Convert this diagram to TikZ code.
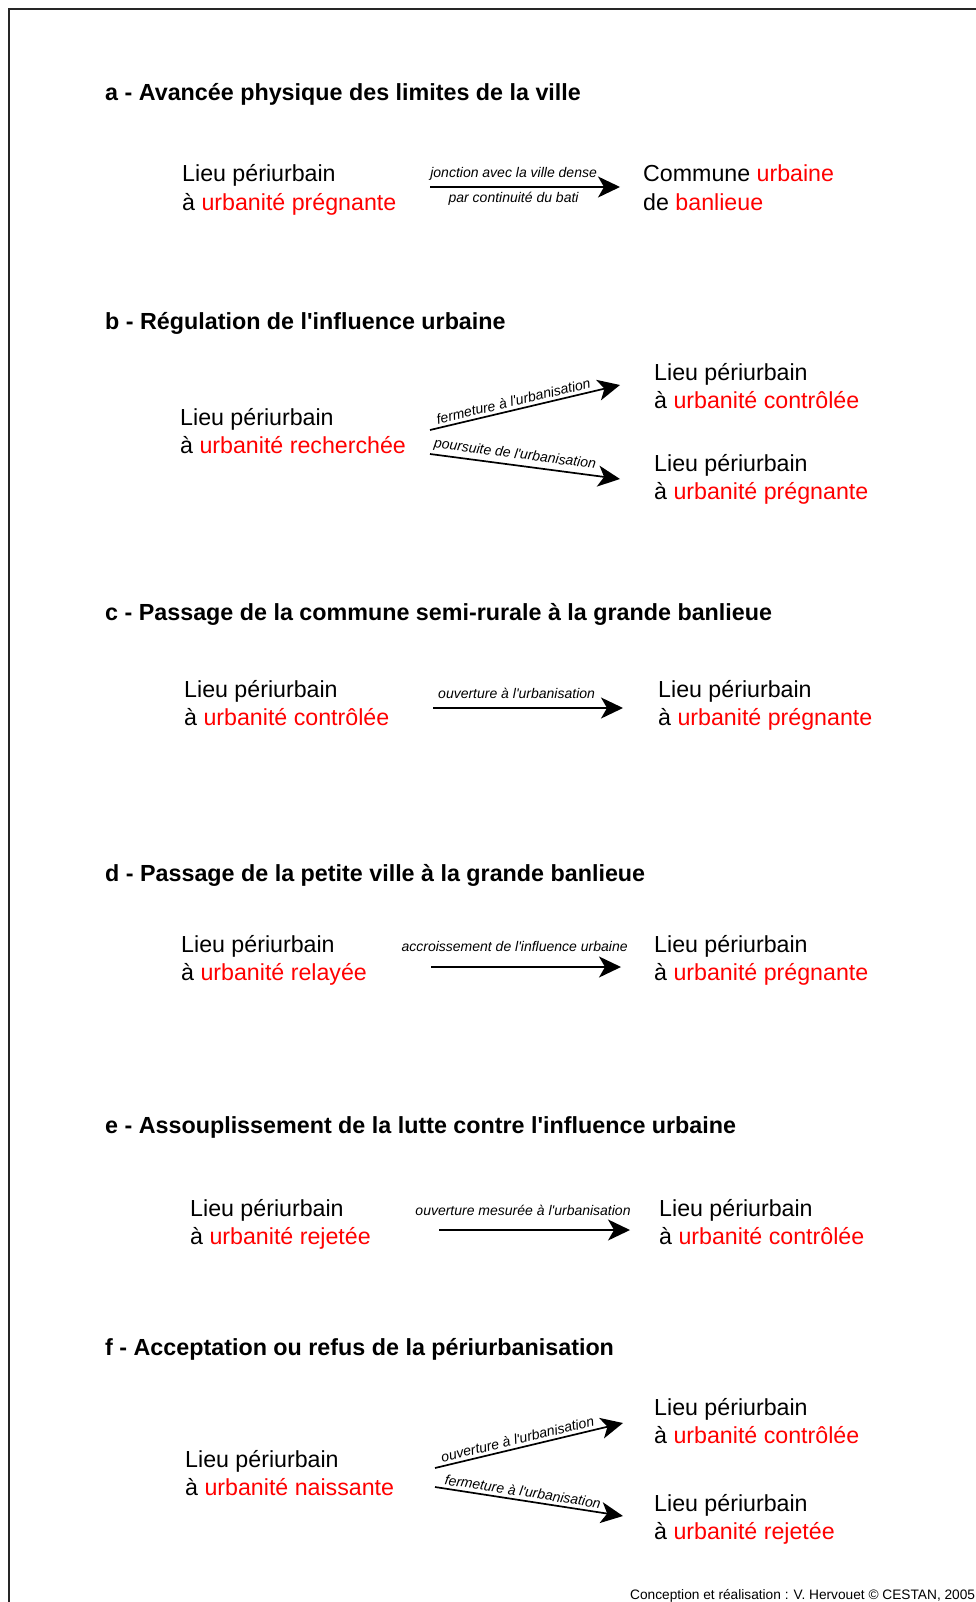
\documentclass[tikz,border=0pt]{standalone}
\usepackage{fontspec}
\setmainfont{Liberation Sans}[Ligatures=TeXOff]
\usetikzlibrary{arrows.meta, positioning}

\begin{document}
\begin{tikzpicture}[x=1pt, y=-1pt,
    titre/.style={anchor=base west, inner sep=0pt, font=\fontsize{23.3}{28}\selectfont\bfseries},
    lieu/.style={anchor=base west, yshift=-28.5pt, inner sep=0pt, align=left, font=\fontsize{23.2}{28.5}\selectfont},
    lbl/.style={inner sep=0pt, font=\fontsize{14}{16}\selectfont\itshape},
    arr/.style={-{Stealth[length=22pt, width=21pt, inset=6pt]}, line width=1.7pt}
]
\useasboundingbox (0,0) rectangle (976,1602);
\clip (0,0) rectangle (976,1602);
\draw[black!85, line width=1.3pt] (9,9) rectangle (1000,1650);

% a
\node[titre] (ta) at (105,101) {a - Avancée physique des limites de la ville};
\node[lieu] (la) at (182,182) {Lieu périurbain\\à \textcolor{red}{urbanité prégnante}};
\node[lieu] (ra) at (643,182) {Commune \textcolor{red}{urbaine}\\de \textcolor{red}{banlieue}};
\coordinate (a1) at (430,187);
\coordinate (a2) at (620,187);
\draw[arr] (a1) -- (a2)
    node[lbl, pos=.44, yshift=13pt] {jonction avec la ville dense}
    node[lbl, pos=.44, yshift=-12pt] {par continuité du bati};

% b
\node[titre] (tb) at (105,329) {b - Régulation de l'influence urbaine};
\node[lieu] (lb) at (180,425) {Lieu périurbain\\à \textcolor{red}{urbanité recherchée}};
\node[lieu] (rb1) at (654,380) {Lieu périurbain\\à \textcolor{red}{urbanité contrôlée}};
\node[lieu] (rb2) at (654,471) {Lieu périurbain\\à \textcolor{red}{urbanité prégnante}};
\coordinate (b0) at (430,430);
\coordinate (b1) at (620,385);
\coordinate (b2) at (430,454);
\coordinate (b3) at (620,479);
\draw[arr] (b0) -- (b1) node[lbl, pos=.45, sloped, above=3pt] {fermeture à l'urbanisation};
\draw[arr] (b2) -- (b3) node[lbl, pos=.44, sloped, above=3pt] {poursuite de l'urbanisation};

% c
\node[titre] (tc) at (105,620) {c - Passage de la commune semi-rurale à la grande banlieue};
\node[lieu] (lc) at (184,697) {Lieu périurbain\\à \textcolor{red}{urbanité contrôlée}};
\node[lieu] (rc) at (658,697) {Lieu périurbain\\à \textcolor{red}{urbanité prégnante}};
\coordinate (c1) at (433,708);
\coordinate (c2) at (623,708);
\draw[arr] (c1) -- (c2) node[lbl, pos=.44, yshift=15pt] {ouverture à l'urbanisation};

% d
\node[titre] (td) at (105,881) {d - Passage de la petite ville à la grande banlieue};
\node[lieu] (ld) at (181,952) {Lieu périurbain\\à \textcolor{red}{urbanité relayée}};
\node[lieu] (rd) at (654,952) {Lieu périurbain\\à \textcolor{red}{urbanité prégnante}};
\coordinate (d1) at (431,967);
\coordinate (d2) at (621,967);
\draw[arr] (d1) -- (d2) node[lbl, pos=.44, yshift=21pt] {accroissement de l'influence urbaine};

% e
\node[titre] (te) at (105,1133) {e - Assouplissement de la lutte contre l'influence urbaine};
\node[lieu] (le) at (190,1216) {Lieu périurbain\\à \textcolor{red}{urbanité rejetée}};
\node[lieu] (re) at (659,1216) {Lieu périurbain\\à \textcolor{red}{urbanité contrôlée}};
\coordinate (e1) at (439,1230);
\coordinate (e2) at (630,1230);
\draw[arr] (e1) -- (e2) node[lbl, pos=.44, yshift=20pt] {ouverture mesurée à l'urbanisation};

% f
\node[titre] (tf) at (105,1355) {f - Acceptation ou refus de la périurbanisation};
\node[lieu] (lf) at (185,1467) {Lieu périurbain\\à \textcolor{red}{urbanité naissante}};
\node[lieu] (rf1) at (654,1415) {Lieu périurbain\\à \textcolor{red}{urbanité contrôlée}};
\node[lieu] (rf2) at (654,1511) {Lieu périurbain\\à \textcolor{red}{urbanité rejetée}};
\coordinate (f0) at (435,1468);
\coordinate (f1) at (623,1423);
\coordinate (f2) at (435,1487);
\coordinate (f3) at (623,1516);
\draw[arr] (f0) -- (f1) node[lbl, pos=.45, sloped, above=3pt] {ouverture à l'urbanisation};
\draw[arr] (f2) -- (f3) node[lbl, pos=.46, sloped, above=3pt] {fermeture à l'urbanisation};

\node[anchor=base west, inner sep=0pt, font=\fontsize{13.7}{16}\selectfont] (credit) at (630,1599) {Conception et réalisation : V. Hervouet © CESTAN, 2005};
\end{tikzpicture}
\end{document}
